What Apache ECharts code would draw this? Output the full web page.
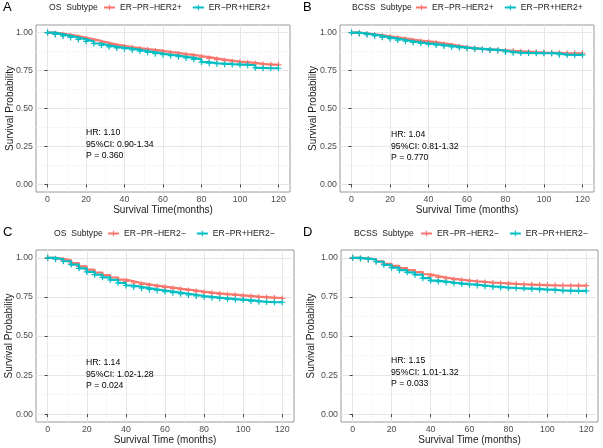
<!DOCTYPE html>
<html><head><meta charset="utf-8">
<script src="https://cdn.jsdelivr.net/npm/echarts@6/dist/echarts.min.js"></script>
<style>html,body{margin:0;padding:0;background:#fff}#c{width:603px;height:448px}</style>
</head><body><div id="c"></div>
<script>
// ---- data ----
const months = [0,4,8,12,16,20,24,28,32,36,40,44,48,52,56,60,64,68,72,76,80,84,88,92,96,100,104,108,112,116,120];
const xTicks = [0,20,40,60,80,100,120];
const xMinor = [10,30,50,70,90,110];
const yTicks = [0,0.25,0.5,0.75,1];
const yMinor = [0.125,0.375,0.625,0.875];

const nameNegPos = 'ER\u2212PR\u2212HER2+';
const namePosPos = 'ER\u2212PR+HER2+';
const nameNegNeg = 'ER\u2212PR\u2212HER2\u2212';
const namePosNeg = 'ER\u2212PR+HER2\u2212';

// A: OS, HER2+
const osHer2pRed  = [1.000,0.993,0.985,0.977,0.967,0.956,0.945,0.932,0.921,0.912,0.905,0.898,0.892,0.886,0.879,0.872,0.866,0.859,0.853,0.846,0.838,0.830,0.822,0.815,0.809,0.805,0.800,0.794,0.790,0.788,0.788];
const osHer2pCyan = [1.000,0.988,0.978,0.968,0.955,0.942,0.928,0.916,0.906,0.899,0.894,0.886,0.878,0.870,0.861,0.854,0.848,0.841,0.833,0.824,0.806,0.798,0.795,0.792,0.790,0.788,0.785,0.768,0.765,0.765,0.765];
// B: BCSS, HER2+
const bcssHer2pRed  = [1.000,0.995,0.989,0.983,0.976,0.969,0.962,0.954,0.947,0.942,0.937,0.930,0.922,0.913,0.905,0.898,0.893,0.889,0.886,0.883,0.880,0.877,0.874,0.871,0.869,0.867,0.866,0.864,0.864,0.864,0.864];
const bcssHer2pCyan = [1.000,0.994,0.987,0.979,0.969,0.960,0.951,0.943,0.935,0.929,0.924,0.918,0.912,0.906,0.901,0.897,0.893,0.889,0.886,0.882,0.872,0.868,0.866,0.865,0.864,0.864,0.863,0.854,0.853,0.853,0.853];
// C: OS, HER2-
const osHer2nRed  = [1.000,0.994,0.984,0.966,0.945,0.925,0.906,0.889,0.874,0.861,0.849,0.839,0.830,0.823,0.816,0.810,0.803,0.797,0.791,0.784,0.778,0.773,0.768,0.764,0.760,0.756,0.752,0.749,0.746,0.743,0.740];
const osHer2nCyan = [1.000,0.991,0.978,0.957,0.933,0.910,0.892,0.875,0.859,0.840,0.823,0.814,0.806,0.798,0.791,0.784,0.777,0.770,0.763,0.756,0.750,0.745,0.741,0.736,0.733,0.730,0.723,0.719,0.717,0.716,0.716];
// D: BCSS, HER2-
const bcssHer2nRed  = [1.000,0.996,0.991,0.978,0.962,0.948,0.935,0.922,0.909,0.895,0.883,0.874,0.866,0.860,0.855,0.850,0.846,0.842,0.839,0.836,0.833,0.831,0.829,0.827,0.825,0.824,0.823,0.823,0.822,0.822,0.822];
const bcssHer2nCyan = [1.000,0.995,0.990,0.975,0.955,0.937,0.921,0.907,0.892,0.870,0.854,0.848,0.842,0.837,0.832,0.828,0.823,0.818,0.814,0.810,0.807,0.805,0.803,0.801,0.797,0.796,0.791,0.790,0.789,0.789,0.789];

const panelLetters = ['A','B','C','D'];
const panelTitles = ['OS  Subtype','BCSS  Subtype','OS  Subtype','BCSS  Subtype'];
const xTitles = ['Survival Time(months)','Survival Time (months)','Survival Time (months)','Survival Time (months)'];
const yTitle = 'Survival Probability';
const statTexts = [
  ['HR: 1.10','95%CI: 0.90-1.34','P = 0.360'],
  ['HR: 1.04','95%CI: 0.81-1.32','P = 0.770'],
  ['HR: 1.14','95%CI: 1.02-1.28','P = 0.024'],
  ['HR: 1.15','95%CI: 1.01-1.32','P = 0.033']
];
const panelSeries = [
  [[nameNegPos, osHer2pRed],[namePosPos, osHer2pCyan]],
  [[nameNegPos, bcssHer2pRed],[namePosPos, bcssHer2pCyan]],
  [[nameNegNeg, osHer2nRed],[namePosNeg, osHer2nCyan]],
  [[nameNegNeg, bcssHer2nRed],[namePosNeg, bcssHer2nCyan]]
];

// ---- layout ----
const RED = '#F8766D', CYAN = '#00BFC4';
const FONT = 'Liberation Sans, Arial, sans-serif';
const grids = [
  {left:36, top:25, width:254, height:167},
  {left:340, top:25, width:254, height:167},
  {left:36, top:250, width:258, height:172},
  {left:341, top:250, width:257, height:172}
];
const legendPos = [
  {left:103, top:3, title:49},
  {left:415, top:3, title:352},
  {left:107, top:229, title:54},
  {left:420, top:229, title:354}
];
const yTitleX = [10, 313, 9, 311];
const statPos = [[86,133],[391,135],[86,363],[391,361]];
const plus = 'path://M2,0H3V2H5V3H3V5H2V3H0V2H2Z';

const option = {
  animation:false,
  textStyle:{fontFamily:FONT},
  grid:[], xAxis:[], yAxis:[], series:[], legend:[], graphic:[]
};

grids.forEach((g,i)=>{
  option.grid.push(Object.assign({show:true, borderColor:'#9a9a9a', borderWidth:1, backgroundColor:'#fff'}, g));
  // minor axes (gridlines only)
  option.xAxis.push({type:'value', gridIndex:i, min:-6, max:126, position:'bottom',
    axisLine:{show:false}, axisLabel:{show:false}, axisTick:{show:false, customValues:xMinor},
    splitLine:{show:true, lineStyle:{color:'#f3f3f3', width:0.7}}});
  option.yAxis.push({type:'value', gridIndex:i, min:-0.05, max:1.05, position:'left',
    axisLine:{show:false}, axisLabel:{show:false}, axisTick:{show:false, customValues:yMinor},
    splitLine:{show:true, lineStyle:{color:'#f3f3f3', width:0.7}}});
  // major axes
  option.xAxis.push({type:'value', gridIndex:i, min:-6, max:126, position:'bottom',
    name:xTitles[i], nameLocation:'middle', nameGap:13, nameMoveOverlap:false,
    nameTextStyle:{fontSize:10, color:'#1a1a1a', fontFamily:FONT},
    axisLine:{show:false},
    axisTick:{show:true, length:3, customValues:xTicks, lineStyle:{color:'#444'}},
    axisLabel:{show:true, customValues:xTicks, fontSize:8.8, color:'#4d4d4d', margin:3, fontFamily:FONT},
    splitLine:{show:true, lineStyle:{color:'#e6e6e6', width:1}}});
  option.yAxis.push({type:'value', gridIndex:i, min:-0.05, max:1.05, position:'left',
    axisLine:{show:false},
    axisTick:{show:true, length:3, customValues:yTicks, lineStyle:{color:'#444'}},
    axisLabel:{show:true, customValues:yTicks, fontSize:8.8, color:'#4d4d4d', margin:3, fontFamily:FONT,
      formatter:v=>v.toFixed(2)},
    splitLine:{show:true, lineStyle:{color:'#e6e6e6', width:1}}});
  const axIdx = 2*i+1;
  panelSeries[i].forEach((s,k)=>{
    const col = k===0 ? RED : CYAN;
    option.series.push({type:'line', name:s[0], xAxisIndex:axIdx, yAxisIndex:axIdx,
      data: months.map((m,j)=>[m, s[1][j]]), step:'end',
      symbol:plus, symbolSize:6, showSymbol:true,
      itemStyle:{color:col}, lineStyle:{color:col, width:2.2}, z: 3+k});
  });
  option.legend.push({left:legendPos[i].left, top:legendPos[i].top, width:240, padding:0, orient:'horizontal',
    data:[panelSeries[i][0][0], panelSeries[i][1][0]], itemWidth:11, itemHeight:7, itemGap:10,
    textStyle:{fontSize:8.6, color:'#1a1a1a', fontFamily:FONT}, selectedMode:false});
  option.graphic.push({type:'text', left:legendPos[i].title, top:legendPos[i].top, z:100,
    style:{text:panelTitles[i], fontSize:8.6, fill:'#1a1a1a', fontFamily:FONT}});
  option.graphic.push({type:'text', left:(i%2===0?3:303), top:(i<2?1:226), z:100,
    style:{text:panelLetters[i], fontSize:13, fill:'#000', fontFamily:FONT}});
  option.graphic.push({type:'text', left:statPos[i][0], top:statPos[i][1]-6, z:100,
    style:{text:statTexts[i].join('\n'), fontSize:8.7, lineHeight:11.5, fill:'#000', fontFamily:FONT}});
  option.graphic.push({type:'text', x:yTitleX[i], y:g.top + g.height/2, rotation:Math.PI/2, z:100,
    style:{text:yTitle, fontSize:10, fill:'#1a1a1a', fontFamily:FONT, align:'center', verticalAlign:'middle'}});
});

const chart = echarts.init(document.getElementById('c'), null, {renderer:'canvas'});
chart.setOption(option);
</script></body></html>
